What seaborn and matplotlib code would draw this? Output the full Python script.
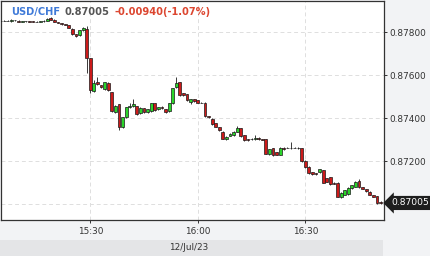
import numpy as np
import pandas as pd
import matplotlib
matplotlib.use("Agg")
import matplotlib.pyplot as plt
import matplotlib.transforms as mtrans
from matplotlib.patches import Rectangle
import seaborn as sns

# ---- data (1-minute candles, minutes after 15:00) ----
minutes = list(range(5, 112))
opens = [0.87854, 0.87853, 0.87854, 0.87850, 0.87856, 0.87854, 0.87847, 0.87850, 0.87850, 0.87853,
         0.87847, 0.87849, 0.87850, 0.87853, 0.87866, 0.87857, 0.87848, 0.87843, 0.87836, 0.87833,
         0.87816, 0.87789, 0.87785, 0.87812, 0.87816, 0.87678, 0.87525, 0.87566, 0.87553, 0.87534,
         0.87562, 0.87520, 0.87427, 0.87464, 0.87358, 0.87404, 0.87450, 0.87455, 0.87455, 0.87423,
         0.87446, 0.87427, 0.87432, 0.87469, 0.87441, 0.87450, 0.87441, 0.87432, 0.87469, 0.87543,
         0.87566, 0.87515, 0.87511, 0.87475, 0.87488, 0.87483, 0.87472, 0.87472, 0.87410, 0.87398,
         0.87376, 0.87358, 0.87336, 0.87302, 0.87317, 0.87320, 0.87336, 0.87354, 0.87320, 0.87302,
         0.87302, 0.87302, 0.87308, 0.87302, 0.87302, 0.87231, 0.87259, 0.87241, 0.87230, 0.87263,
         0.87262, 0.87263, 0.87263, 0.87263, 0.87259, 0.87201, 0.87173, 0.87147, 0.87143, 0.87147,
         0.87158, 0.87121, 0.87125, 0.87099, 0.87099, 0.87031, 0.87042, 0.87046, 0.87073, 0.87080,
         0.87107, 0.87078, 0.87068, 0.87057, 0.87042, 0.87037, 0.87010]
highs = [0.87856, 0.87856, 0.87856, 0.87859, 0.87858, 0.87856, 0.87852, 0.87853, 0.87852, 0.87854,
         0.87851, 0.87852, 0.87856, 0.87864, 0.87871, 0.87859, 0.87849, 0.87844, 0.87837, 0.87834,
         0.87818, 0.87790, 0.87810, 0.87826, 0.87828, 0.87680, 0.87576, 0.87590, 0.87556, 0.87570,
         0.87566, 0.87522, 0.87460, 0.87466, 0.87406, 0.87452, 0.87470, 0.87490, 0.87458, 0.87450,
         0.87448, 0.87444, 0.87472, 0.87472, 0.87453, 0.87455, 0.87444, 0.87471, 0.87541, 0.87590,
         0.87570, 0.87518, 0.87513, 0.87490, 0.87490, 0.87485, 0.87474, 0.87474, 0.87412, 0.87400,
         0.87378, 0.87360, 0.87338, 0.87315, 0.87330, 0.87338, 0.87362, 0.87356, 0.87322, 0.87304,
         0.87307, 0.87320, 0.87310, 0.87304, 0.87304, 0.87257, 0.87261, 0.87243, 0.87265, 0.87265,
         0.87265, 0.87288, 0.87265, 0.87266, 0.87261, 0.87203, 0.87175, 0.87149, 0.87145, 0.87164,
         0.87160, 0.87123, 0.87127, 0.87101, 0.87101, 0.87054, 0.87067, 0.87078, 0.87090, 0.87106,
         0.87116, 0.87080, 0.87070, 0.87059, 0.87044, 0.87039, 0.87012]
lows = [0.87852, 0.87852, 0.87851, 0.87849, 0.87853, 0.87845, 0.87846, 0.87848, 0.87847, 0.87845,
        0.87846, 0.87847, 0.87849, 0.87852, 0.87857, 0.87846, 0.87842, 0.87835, 0.87831, 0.87819,
        0.87787, 0.87779, 0.87783, 0.87806, 0.87608, 0.87515, 0.87520, 0.87555, 0.87540, 0.87530,
        0.87525, 0.87428, 0.87423, 0.87344, 0.87353, 0.87400, 0.87446, 0.87452, 0.87414, 0.87420,
        0.87424, 0.87425, 0.87430, 0.87433, 0.87438, 0.87444, 0.87424, 0.87430, 0.87466, 0.87540,
        0.87503, 0.87503, 0.87480, 0.87464, 0.87476, 0.87470, 0.87469, 0.87407, 0.87402, 0.87368,
        0.87357, 0.87341, 0.87302, 0.87299, 0.87315, 0.87318, 0.87334, 0.87313, 0.87294, 0.87295,
        0.87300, 0.87300, 0.87300, 0.87298, 0.87232, 0.87228, 0.87225, 0.87228, 0.87228, 0.87252,
        0.87260, 0.87257, 0.87260, 0.87257, 0.87198, 0.87170, 0.87140, 0.87137, 0.87137, 0.87145,
        0.87096, 0.87101, 0.87090, 0.87092, 0.87031, 0.87028, 0.87040, 0.87044, 0.87071, 0.87078,
        0.87076, 0.87069, 0.87058, 0.87040, 0.87032, 0.87000, 0.87000]
closes = [0.87853, 0.87854, 0.87852, 0.87858, 0.87855, 0.87846, 0.87850, 0.87851, 0.87849, 0.87846,
          0.87849, 0.87850, 0.87854, 0.87862, 0.87858, 0.87848, 0.87843, 0.87836, 0.87833, 0.87820,
          0.87789, 0.87781, 0.87808, 0.87817, 0.87678, 0.87529, 0.87562, 0.87557, 0.87543, 0.87566,
          0.87529, 0.87432, 0.87455, 0.87358, 0.87404, 0.87450, 0.87455, 0.87464, 0.87418, 0.87446,
          0.87427, 0.87441, 0.87469, 0.87436, 0.87450, 0.87446, 0.87427, 0.87469, 0.87539, 0.87562,
          0.87506, 0.87506, 0.87483, 0.87488, 0.87478, 0.87472, 0.87471, 0.87410, 0.87405, 0.87371,
          0.87360, 0.87344, 0.87305, 0.87313, 0.87328, 0.87336, 0.87354, 0.87316, 0.87297, 0.87297,
          0.87305, 0.87308, 0.87302, 0.87300, 0.87235, 0.87254, 0.87228, 0.87230, 0.87263, 0.87254,
          0.87262, 0.87259, 0.87262, 0.87259, 0.87201, 0.87173, 0.87143, 0.87139, 0.87139, 0.87161,
          0.87099, 0.87104, 0.87093, 0.87094, 0.87034, 0.87052, 0.87065, 0.87076, 0.87088, 0.87104,
          0.87078, 0.87071, 0.87060, 0.87042, 0.87034, 0.87003, 0.87005]

symbol = "USD/CHF"
last_price = "0.87005"
change_text = "-0.00940(-1.07%)"
date_label = "12/Jul/23"
time_ticks = [30, 60, 90]
time_labels = ["15:30", "16:00", "16:30"]
price_ticks = [0.870, 0.872, 0.874, 0.876, 0.878]
price_labels = ["", "0.87200", "0.87400", "0.87600", "0.87800"]

df = pd.DataFrame({"minute": minutes, "open": opens, "high": highs,
                   "low": lows, "close": closes})

# ---- style ----
sns.set_theme(style="white")
plt.rcParams["font.family"] = ["DejaVu Sans"]

W, H = 430, 256
fig = plt.figure(figsize=(W / 100, H / 100), dpi=100)
fig.patch.set_facecolor("#f2f3f5")
fig.patches.append(Rectangle((0, 0), 383 / W, 16 / H, transform=fig.transFigure,
                             facecolor="#e4e5e7", edgecolor="none", zorder=0))

ax = fig.add_axes([1 / W, 36 / H, 383 / W, 219.5 / H])
ax.set_facecolor("white")

up = df["close"] >= df["open"]
colors = np.where(up, "#2ad42a", "#cc1a1a")
bottoms = np.minimum(df["open"], df["close"])
heights = np.abs(df["close"] - df["open"])

ax.vlines(df["minute"], df["low"], df["high"], color="#1a1a1a", linewidth=0.6, zorder=2)
ax.bar(df["minute"], heights, bottom=bottoms, width=0.8, color=colors,
       edgecolor="#1a1a1a", linewidth=0.5, zorder=3)

ax.set_xlim(5.08, 111.97)
ax.set_ylim(0.869258, 0.879472)

ax.set_xticks(time_ticks)
ax.set_xticklabels(time_labels)
ax.set_yticks(price_ticks)
ax.set_yticklabels(price_labels)
ax.yaxis.tick_right()
ax.grid(True, color="#dedede", linestyle=(0, (4, 3)), linewidth=0.7, zorder=0)

for s in ax.spines.values():
    s.set_visible(True)
    s.set_color("#333333")
    s.set_linewidth(0.9)

ax.tick_params(axis="y", which="both", right=True, left=False, length=2.3, width=0.7,
               color="#333333", labelsize=6.4, labelcolor="#333333", pad=1.5)
ax.tick_params(axis="x", which="both", bottom=True, length=2.3, width=0.7,
               color="#333333", labelsize=6.4, labelcolor="#333333", pad=3)
ax.set_xlabel("")
ax.set_ylabel("")

# last price tag
tr = mtrans.blended_transform_factory(fig.transFigure, ax.transData)
ax.text(391 / W, 0.87005, last_price, transform=tr, ha="left", va="center",
        fontsize=6.6, color="white", clip_on=False, zorder=20,
        bbox=dict(boxstyle="larrow,pad=0.28", facecolor="#1e1e1e", edgecolor="none"))

# title pieces
renderer = fig.canvas.get_renderer()
x = 11 / W
y = 1 - 12 / H
for txt, col in [(symbol, "#3f7ad8"), (last_price, "#555555"), (change_text, "#dc4630")]:
    t = fig.text(x, y, txt, ha="left", va="center", fontsize=7.1, fontweight="bold",
                 color=col, zorder=30)
    bb = t.get_window_extent(renderer)
    x = (bb.x1 + 4.5) / W

fig.text(189 / W, 8 / H, date_label, ha="center", va="center", fontsize=6.4, color="#333333")

fig.savefig("out.png", dpi=100, facecolor=fig.get_facecolor())
